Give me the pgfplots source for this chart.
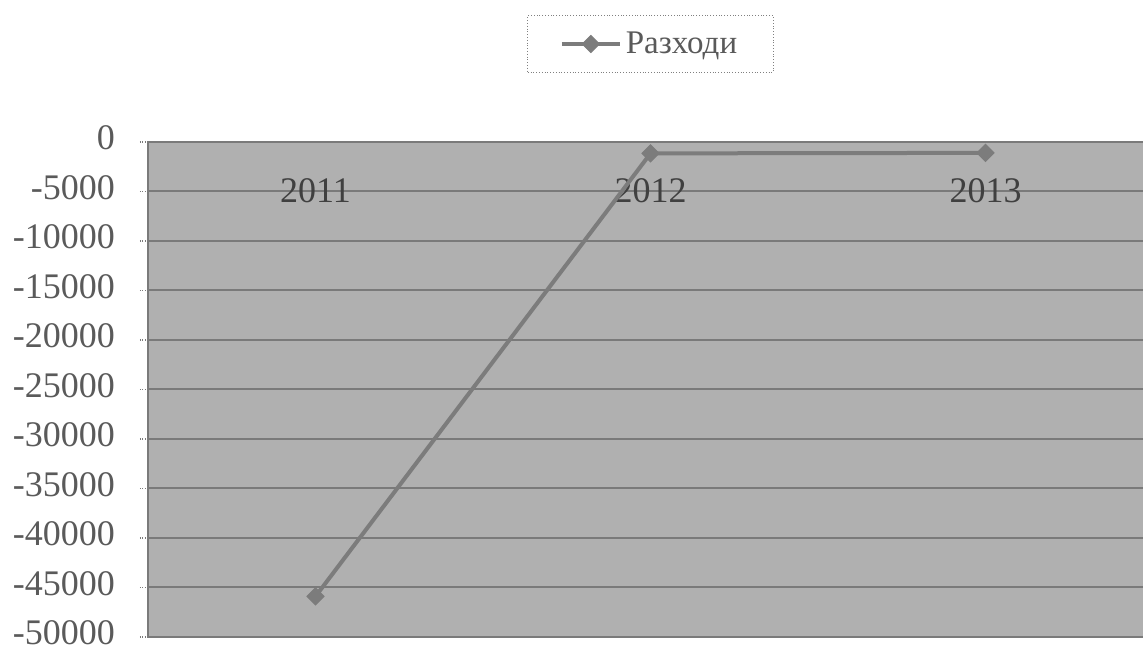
\documentclass[border=0pt]{standalone}
\usepackage{fontspec}
\setmainfont{Liberation Serif}
\usepackage{pgfplots}
\pgfplotsset{compat=1.18}
\definecolor{bggray}{HTML}{B0B0B0}
\definecolor{gridgray}{HTML}{7A7A7A}
\definecolor{linegray}{HTML}{7C7C7C}
\definecolor{txtgray}{HTML}{5A5A5A}
\begin{document}
\begin{tikzpicture}
\begin{axis}[
  scale only axis, width=497.5pt, height=247.5pt,
  at={(0,0)}, anchor=south west,
  xmin=-0.5, xmax=2.47, ymin=-50000, ymax=0,
  ytick={-50000,-45000,...,0},
  scaled y ticks=false,
  xtick={0,1,2}, xticklabels={2011,2012,2013},
  axis x line*=top, axis y line*=left,
  axis line style={gridgray, line width=1pt},
  axis background/.style={fill=bggray},
  ymajorgrids, major grid style={gridgray, line width=1pt},
  tick align=outside, major tick length=4pt,
  ytick style={gridgray, densely dotted, line width=0.6pt},
  xtick style={draw=none},
  /pgf/number format/assume math mode=true,
  /pgf/number format/set thousands separator={},
  ticklabel style={font=\fontsize{18}{20}\selectfont, text=txtgray},
  yticklabel style={xshift=-9pt, yshift=2pt},
  xticklabel style={anchor=center, yshift=-28.5pt, font=\fontsize{18}{20}\selectfont, text=black!75},
  legend style={at={(axis description cs:0.505,1.198)}, anchor=center,
    draw=gray, densely dotted, fill=white, inner xsep=16pt, inner ysep=6pt,
    font=\fontsize{16.5}{19}\selectfont, text=txtgray},
  legend image code/.code={\draw[mark repeat=2,mark phase=2,#1] plot coordinates {(0pt,0pt) (14.5pt,0pt) (29pt,0pt)};},
]
\addplot[solid, linegray, line width=2pt, mark=square*, mark size=3pt,
  mark options={solid, rotate=45, fill=linegray, draw=linegray, line width=0.5pt}]
  coordinates {(0,-45900) (1,-1150) (2,-1100)};
\addlegendentry{Разходи}
\end{axis}
\pgfresetboundingbox
\path (-74pt,-7pt) rectangle (497.5pt,318.5pt);
\end{tikzpicture}
\end{document}
